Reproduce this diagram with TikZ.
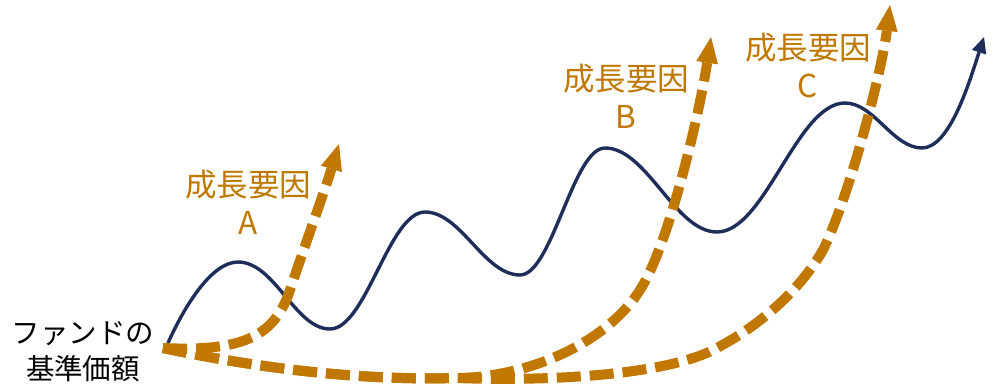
\documentclass[tikz,border=0pt]{standalone}
\usepackage{fontspec}
\setmainfont{Noto Sans CJK JP}
\usetikzlibrary{arrows.meta}
\definecolor{growth}{HTML}{C07800}
\definecolor{navyline}{HTML}{1F2D5A}
\begin{document}
\begin{tikzpicture}[x=1pt,y=-1pt,
  growthline/.style={draw=growth, line width=10pt, dash pattern=on 24pt off 9pt,
    -{Triangle[length=26pt,width=22pt,line width=0pt,fill=growth]}},
  navycurve/.style={draw=navyline, line width=3.4pt,
    -{Triangle[length=16pt,width=15pt,line width=0pt,fill=navyline]}},
  factortext/.style={text=growth, font=\fontsize{31.5}{38}\selectfont, align=center},
  basetext/.style={text=black, font=\fontsize{28.5}{36}\selectfont, align=center}
]
\useasboundingbox (0,0) rectangle (1002,385);

% navy curve
\coordinate (n0) at (168,343);
\coordinate (n1) at (238,262);
\coordinate (n2) at (330,329);
\coordinate (n3) at (425,212);
\coordinate (n4) at (520,275);
\coordinate (n5) at (605,148);
\coordinate (n6) at (717,232);
\coordinate (n7) at (845,103);
\coordinate (n8) at (922,148);
\coordinate (n9) at (984,37);
\draw[navycurve] (n0) .. controls (185,305) and (212,262) .. (n1)
  .. controls (275,262) and (295,329) .. (n2)
  .. controls (366,329) and (389,212) .. (n3)
  .. controls (461,212) and (484,275) .. (n4)
  .. controls (552,275) and (573,148) .. (n5)
  .. controls (647,148) and (675,232) .. (n6)
  .. controls (765,232) and (797,103) .. (n7)
  .. controls (874,103) and (893,148) .. (n8)
  .. controls (950,148) and (970,80) .. (n9);

% growth lines
\coordinate (start) at (163,348);
\coordinate (aMid) at (290,290);
\coordinate (tipA) at (339,144);
\coordinate (split) at (455,378);
\coordinate (bMid) at (640,290);
\coordinate (tipB) at (711,37);
\coordinate (cMid1) at (713,350);
\coordinate (cMid2) at (823,250);
\coordinate (tipC) at (890,5);

\draw[growthline] (start) .. controls (290,375) and (390,380) .. (split)
  .. controls (570,382) and (670,372) .. (cMid1)
  .. controls (760,326) and (800,290) .. (cMid2)
  .. controls (850,195) and (882,70) .. (tipC);
\draw[growthline] (start) .. controls (290,375) and (390,380) .. (split)
  .. controls (525,378) and (605,345) .. (bMid)
  .. controls (670,243) and (700,110) .. (tipB);
\draw[growthline] (start) .. controls (245,352) and (275,335) .. (aMid)
  .. controls (305,245) and (325,190) .. (tipA);

% labels
\node[factortext] (labA) at (248,202) {成長要因\\A};
\node[factortext] (labB) at (626,96) {成長要因\\B};
\node[factortext] (labC) at (808,65) {成長要因\\C};
\node[basetext] (base) at (83,352) {ファンドの\\基準価額};
\end{tikzpicture}
\end{document}
